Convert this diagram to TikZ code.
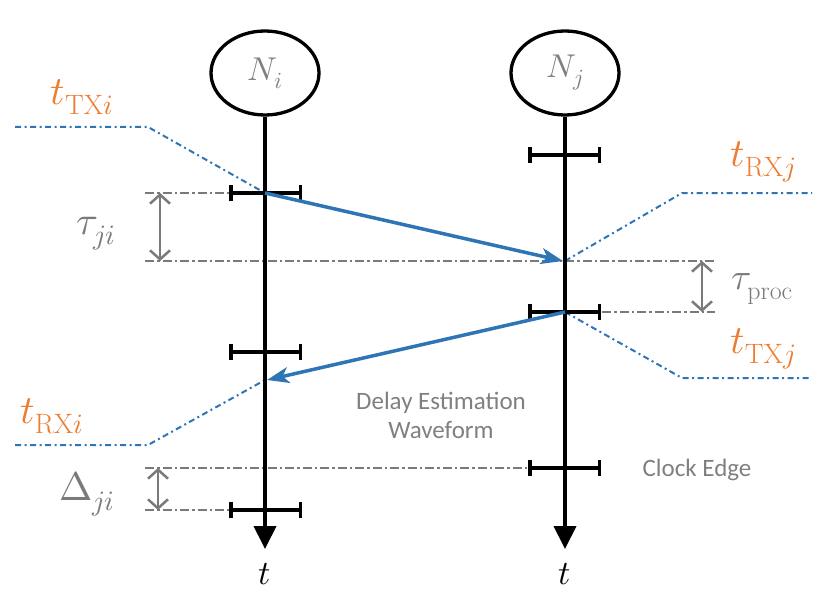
\documentclass[tikz,border=0pt]{standalone}
\usepackage{fontspec}
\usepackage{unicode-math}
\setmathfont{Latin Modern Math}
\newfontfamily\calibri{Carlito}
\usetikzlibrary{arrows.meta,shapes.geometric}
\definecolor{myblue}{HTML}{2E75B6}
\definecolor{myorange}{HTML}{ED7D31}
\definecolor{mygray}{HTML}{7A7A7A}
\definecolor{txtgray}{HTML}{808080}
\begin{document}
\begin{tikzpicture}[x=1pt,y=-1pt,
  nodeell/.style={ellipse,draw,line width=3.3pt,minimum width=108pt,minimum height=84pt,inner sep=0pt,
    text=txtgray,font=\fontsize{33}{36}\selectfont},
  timeline/.style={line width=4pt,-{Triangle[length=23pt,width=22pt]}},
  tickmark/.style={line width=3.5pt,{Bar[width=16pt]}-{Bar[width=16pt]}},
  msg/.style={myblue,line width=3.5pt,-{Stealth[length=22pt,width=16pt,inset=6pt]}},
  gline/.style={mygray,line width=2pt,dash pattern=on 9pt off 3pt on 2.5pt off 3pt},
  bline/.style={myblue,line width=2pt,dash pattern=on 6pt off 3.5pt on 2pt off 3.5pt},
  gdim/.style={mygray,line width=2.5pt,{Straight Barb[length=9pt,width=20pt]}-{Straight Barb[length=9pt,width=20pt]}},
  olab/.style={text=myorange,font=\fontsize{40}{44}\selectfont,inner sep=0pt},
  glab/.style={text=mygray,font=\fontsize{40}{44}\selectfont,inner sep=0pt},
  tlab/.style={font=\fontsize{34}{38}\selectfont,inner sep=0pt},
  sans/.style={text=txtgray,font=\calibri\fontsize{25}{29}\selectfont,align=center,inner sep=0pt}]
\useasboundingbox (0,0) rectangle (830,607);

% nodes
\node[nodeell] (Ni) at (265,73) {$N_i$};
\node[nodeell] (Nj) at (565,73) {$N_j$};

% end points of time lines
\coordinate (Ei) at (265,549);
\coordinate (Ej) at (565,549);

% events on left line
\coordinate (Li1) at (265,193);
\coordinate (Li2) at (265,352);
\coordinate (Li3) at (265,510);
\coordinate (Lrx) at (265,380);
% events on right line
\coordinate (Rj1) at (565,155);
\coordinate (Rrx) at (565,261);
\coordinate (Rj2) at (565,312);
\coordinate (Rj3) at (565,468);

% gray reference lines (behind)
\coordinate (g1a) at (145,193);
\coordinate (g2a) at (145,261);
\coordinate (g2b) at (715,261);
\coordinate (g3b) at (715,312);
\coordinate (g4a) at (145,468);
\coordinate (g5a) at (145,510);
\draw[gline] (g1a) -- ([xshift=-35pt]Li1);
\draw[gline] (g2a) -- (g2b);
\draw[gline] ([xshift=37pt]Rj2) -- (g3b);
\draw[gline] (g4a) -- ([xshift=-37pt]Rj3);
\draw[gline] (g5a) -- ([xshift=-35pt]Li3);

% blue guide lines
\coordinate (b1a) at (15,127);  \coordinate (b1b) at (148,127);
\coordinate (b2a) at (682,193); \coordinate (b2b) at (812,193);
\coordinate (b3a) at (682,378); \coordinate (b3b) at (812,378);
\coordinate (b4a) at (15,445);  \coordinate (b4b) at (148,445);
\draw[bline] (b1a) -- (b1b) -- (Li1);
\draw[bline] (Rrx) -- (b2a) -- (b2b);
\draw[bline] (Rj2) -- (b3a) -- (b3b);
\draw[bline] (b4a) -- (b4b) -- (Lrx);

% time lines
\draw[timeline] (Ni.south) -- (Ei);
\draw[timeline] (Nj.south) -- (Ej);

% ticks
\draw[tickmark] ([xshift=-36pt]Li1) -- ([xshift=37pt]Li1);
\draw[tickmark] ([xshift=-36pt]Li2) -- ([xshift=37pt]Li2);
\draw[tickmark] ([xshift=-36pt]Li3) -- ([xshift=37pt]Li3);
\draw[tickmark] ([xshift=-37pt]Rj1) -- ([xshift=36pt]Rj1);
\draw[tickmark] ([xshift=-37pt]Rj2) -- ([xshift=36pt]Rj2);
\draw[tickmark] ([xshift=-37pt]Rj3) -- ([xshift=36pt]Rj3);

% messages
\draw[msg] (Li1) -- ([xshift=-2pt]Rrx);
\draw[msg] (Rj2) -- ([xshift=2pt]Lrx);

% dimension arrows
\coordinate (d1a) at (160,193); \coordinate (d1b) at (160,261);
\coordinate (d2a) at (702,261); \coordinate (d2b) at (702,312);
\coordinate (d3a) at (158,468); \coordinate (d3b) at (158,510);
\draw[gdim] (d1a) -- (d1b);
\draw[gdim] (d2a) -- (d2b);
\draw[gdim] (d3a) -- (d3b);

% labels
\node[glab] (tauji) at (96,234) {$\tau_{ji}$};
\node[glab,font=\fontsize{37}{40}\selectfont] (tauproc) at (762,289) {$\tau_{\mathrm{proc}}$};
\node[glab] (Deltaji) at (87,494) {$\Delta_{ji}$};
\node[olab] (tTXi) at (82,97) {$t_{\mathrm{TX}i}$};
\node[olab] (tRXi) at (52,416) {$t_{\mathrm{RX}i}$};
\node[olab] (tRXj) at (763,162) {$t_{\mathrm{RX}j}$};
\node[olab] (tTXj) at (763,349) {$t_{\mathrm{TX}j}$};
\node[tlab] (ti) at (265,574) {$t$};
\node[tlab] (tj) at (565,574) {$t$};
\node[sans] (dew) at (441,415) {Delay Estimation\\Waveform};
\node[sans] (ce) at (697,470) {Clock Edge};
\end{tikzpicture}
\end{document}
